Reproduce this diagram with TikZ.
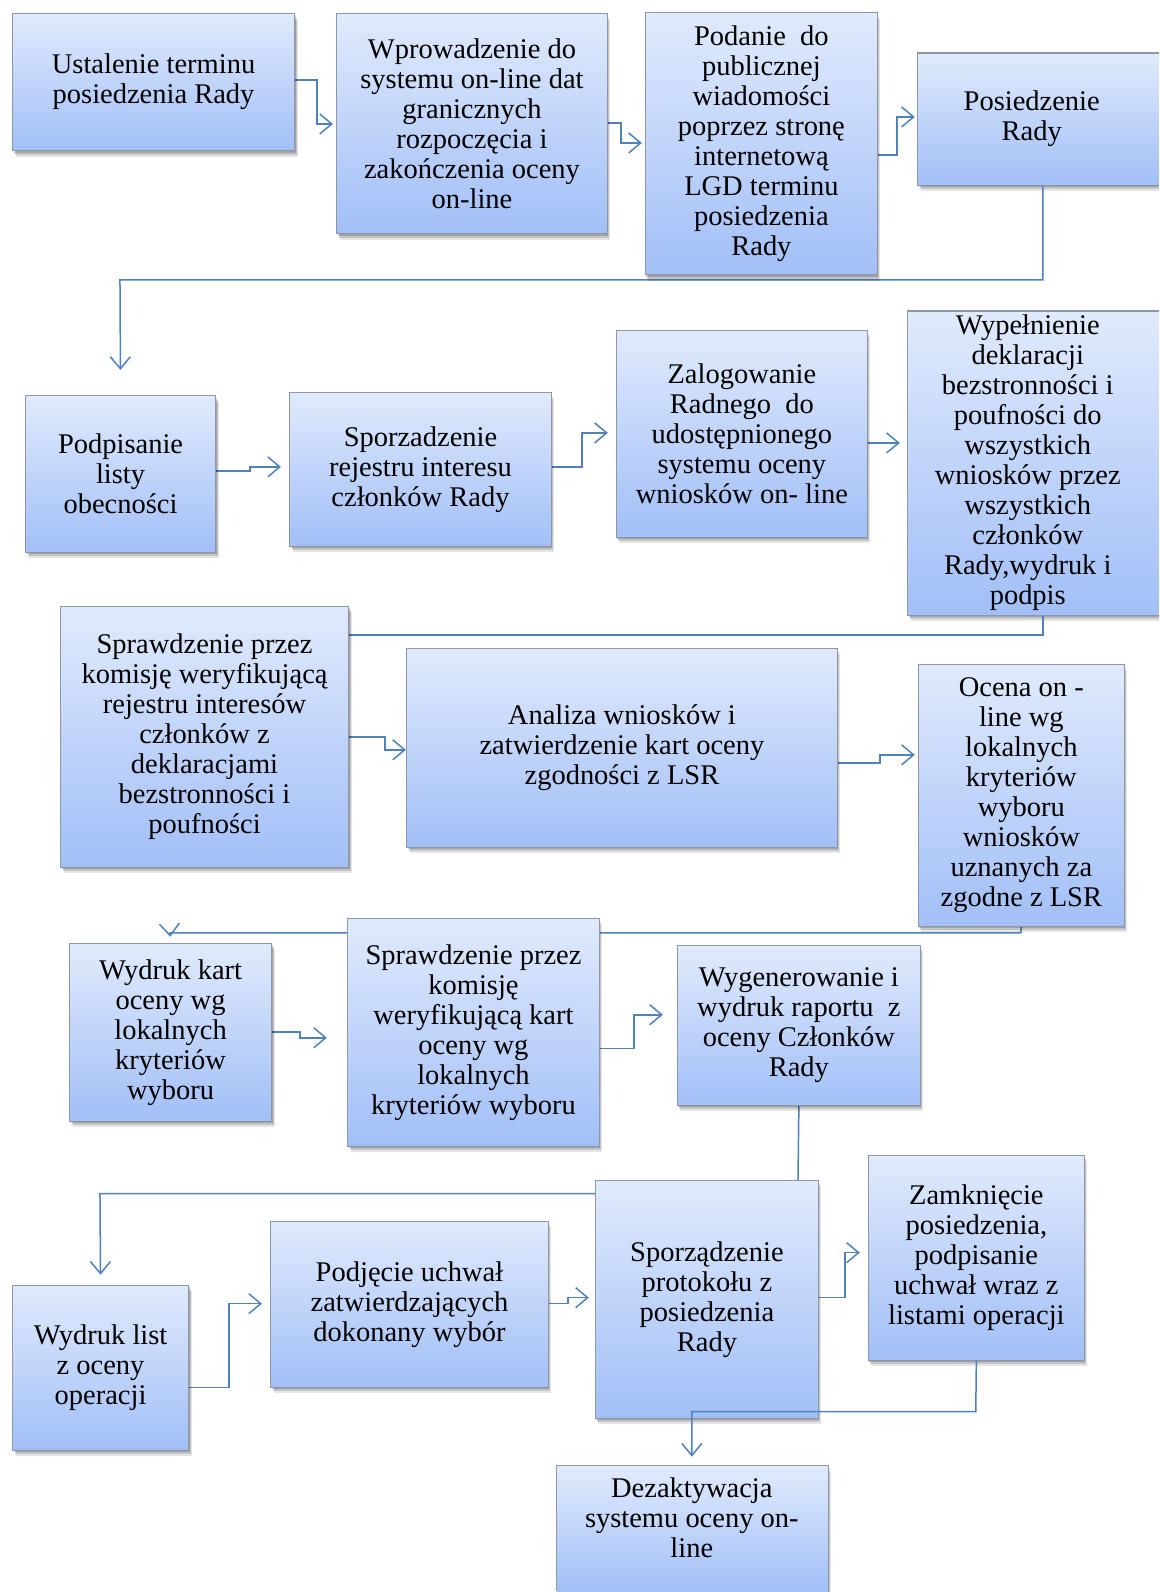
\documentclass[tikz,border=0pt]{standalone}
\usepackage{fontspec}
\setmainfont{Liberation Serif}
\usetikzlibrary{arrows.meta,shadows,backgrounds,calc}
\definecolor{boxtop}{HTML}{E0EAFC}
\definecolor{boxbot}{HTML}{A2BFF7}
\definecolor{boxline}{HTML}{8D97A5}
\definecolor{conncol}{HTML}{4F81BD}
\newcommand\flowbox[6]{\node[box, minimum width=#4pt, minimum height=#5pt] (#1) at (#2,#3) {#6};}
\newcommand\edgebox[5]{\node[edgefill, minimum width=#4pt, minimum height=#5pt] (#1) at (#2,#3) {};}
\begin{document}
\begin{tikzpicture}[x=1pt,y=-1pt,
  fnt/.style={font=\fontsize{28.5}{30}\selectfont},
  box/.style={draw=boxline, line width=1.2pt, top color=boxtop, bottom color=boxbot,
    general shadow={fill=black, opacity=0.10, shadow xshift=3pt, shadow yshift=-6pt},
    general shadow={fill=black, opacity=0.14, shadow xshift=2pt, shadow yshift=-4pt},
    general shadow={fill=black, opacity=0.18, shadow xshift=1pt, shadow yshift=-2pt},
    anchor=north west, inner sep=0pt, align=center, fnt},
  edgefill/.style={draw=none, top color=boxtop, bottom color=boxbot, anchor=north west, inner sep=0pt},
  edgeline/.style={draw=boxline, line width=1.2pt},
  shA/.style={fill=black, opacity=0.10},
  shB/.style={fill=black, opacity=0.14},
  shC/.style={fill=black, opacity=0.18},
  txt/.style={inner sep=0pt, align=center, fnt},
  conn/.style={draw=conncol, line width=1.5pt},
  arr/.style={conn, -{Straight Barb[length=12pt,width=20pt]}}]

% row 1
\flowbox{b1}{12}{13}{282}{137}{Ustalenie terminu\\posiedzenia Rady}
\flowbox{b2}{336}{13}{271}{220}{Wprowadzenie do\\systemu on-line dat\\granicznych\\rozpoczęcia i\\zakończenia oceny\\on-line}
\flowbox{b3}{645}{12}{232}{262}{Podanie\ \ do\\publicznej\\wiadomości\\poprzez stronę\\internetową\\LGD terminu\\posiedzenia\\Rady}
\edgebox{b4}{918}{53}{241}{132}
\draw[edgeline] ([xshift=-0.6pt]b4.north east) -- (b4.north west) -- (b4.south west) -- ([xshift=-0.6pt]b4.south east);
\node[txt] (b4t) at (1032,119) {Posiedzenie\\Rady};

% row 2
\flowbox{c1}{25}{395}{190}{157}{Podpisanie\\listy\\obecności}
\flowbox{c2}{289}{392}{262}{154}{Sporzadzenie\\rejestru interesu\\członków Rady}
\flowbox{c3}{616}{330}{251}{207}{Zalogowanie\\Radnego\ \ do\\udostępnionego\\systemu oceny\\wniosków on- line}
\edgebox{c4}{908}{311}{251}{304}
\draw[edgeline] ([xshift=-0.6pt]c4.north east) -- (c4.north west) -- (c4.south west) -- ([xshift=-0.6pt]c4.south east);
\node[txt] (c4t) at (1028,463) {Wypełnienie\\deklaracji\\bezstronności i\\poufności do\\wszystkich\\wniosków przez\\wszystkich\\członków\\Rady,wydruk i\\podpis};

% row 3
\flowbox{d1}{60}{606}{288}{261}{Sprawdzenie przez\\komisję weryfikującą\\rejestru interesów\\członków z\\deklaracjami\\bezstronności i\\poufności}
\flowbox{d2}{406}{648}{431}{199}{Analiza wniosków i\\zatwierdzenie kart oceny\\zgodności z LSR}
\flowbox{d3}{918}{664}{206}{262}{Ocena on -\\line wg\\lokalnych\\kryteriów\\wyboru\\wniosków\\uznanych za\\zgodne z LSR}

% row 4
\flowbox{e1}{69}{943}{202}{178}{Wydruk kart\\oceny wg\\lokalnych\\kryteriów\\wyboru}
\flowbox{e2}{347}{918}{252}{228}{Sprawdzenie przez\\komisję\\weryfikującą kart\\oceny wg\\lokalnych\\kryteriów wyboru}
\flowbox{e3}{677}{945}{243}{160}{Wygenerowanie i\\wydruk raportu\ \ z\\oceny Członków\\Rady}

% row 5
\flowbox{f1}{12}{1285}{176}{165}{Wydruk list\\z oceny\\operacji}
\flowbox{f2}{270}{1221}{278}{166}{Podjęcie uchwał\\zatwierdzających\\dokonany wybór}
\flowbox{f3}{595}{1180}{223}{238}{Sporządzenie\\protokołu z\\posiedzenia\\Rady}
\flowbox{f4}{868}{1155}{216}{205}{Zamknięcie\\posiedzenia,\\podpisanie\\uchwał wraz z\\listami operacji}
\edgebox{g}{557}{1466}{271}{126}
\draw[edgeline] ([yshift=0.6pt]g.south west) -- (g.north west) -- (g.north east) -- ([yshift=0.6pt]g.south east);
\node[txt] (gt) at (692,1518) {Dezaktywacja\\systemu oceny on-\\line};

\begin{scope}[on background layer]
\fill[white] (0,0) rectangle (1159,1592);
% shadows of the boxes cut by the page edge
\fill[shA] ([shift={(3,6)}]b4.north west) rectangle ([yshift=-6pt]b4.south east);
\fill[shB] ([shift={(2,4)}]b4.north west) rectangle ([yshift=-4pt]b4.south east);
\fill[shC] ([shift={(1,2)}]b4.north west) rectangle ([yshift=-2pt]b4.south east);
\fill[shA] ([shift={(3,6)}]c4.north west) rectangle ([yshift=-6pt]c4.south east);
\fill[shB] ([shift={(2,4)}]c4.north west) rectangle ([yshift=-4pt]c4.south east);
\fill[shC] ([shift={(1,2)}]c4.north west) rectangle ([yshift=-2pt]c4.south east);
\fill[shA] ([shift={(3,6)}]g.north west) rectangle ([xshift=3pt]g.south east);
\fill[shB] ([shift={(2,4)}]g.north west) rectangle ([xshift=2pt]g.south east);
\fill[shC] ([shift={(1,2)}]g.north west) rectangle ([xshift=1pt]g.south east);
% connectors
\draw[arr, shorten >=3pt] (b1.east |- 0,80) -- (317,80) -- (317,124) -- (b2.west |- 0,124);
\draw[arr, shorten >=3pt] (b2.east |- 0,123) -- (621,123) -- (621,143) -- (b3.west |- 0,143);
\draw[arr, shorten >=3pt] (b3.east |- 0,155) -- (897,155) -- (897,117) -- (b4.west |- 0,117);
\draw[arr, shorten >=25pt] (b4.south -| 1043,0) -- (1043,280) -- (120,280) -- (c1.north);
\draw[arr, shorten >=8pt] (c1.east |- 0,471) -- (250,471) -- (250,467) -- (c2.west |- 0,467);
\draw[arr, shorten >=8pt] (c2.east |- 0,467) -- (582,467) -- (582,433) -- (c3.west |- 0,433);
\draw[arr, shorten >=8pt] (c3.east |- 0,443) -- (c4.west |- 0,443);
\draw[conn] (c4.south -| 1043,0) -- (1043,635) -- (d1.east |- 0,635);
\draw[arr, shorten >=0pt] (d1.east |- 0,737) -- (385,737) -- (385,750) -- (d2.west |- 0,750);
\draw[arr, shorten >=3pt] (d2.east |- 0,763) -- (880,763) -- (880,755) -- (d3.west |- 0,755);
\draw[arr, shorten >=6pt] (d3.south) -- (1021,933) -- (170,933) -- (e1.north);
\draw[arr, shorten >=20pt] (e1.east |- 0,1032) -- (300,1032) -- (300,1038) -- (e2.west |- 0,1038);
\draw[arr, shorten >=14pt] (e2.east |- 0,1049) -- (634,1049) -- (634,1015) -- (e3.west |- 0,1015);
\draw[arr, shorten >=10pt] (e3.south) -- (798,1194) -- (100,1194) -- (f1.north);
\draw[arr, shorten >=8pt] (f1.east |- 0,1388) -- (229,1388) -- (229,1304) -- (f2.west |- 0,1304);
\draw[arr, shorten >=6pt] (f2.east |- 0,1304) -- (568,1304) -- (568,1298) -- (f3.west |- 0,1298);
\draw[arr, shorten >=8pt] (f3.east |- 0,1298) -- (845,1298) -- (845,1253) -- (f4.west |- 0,1253);
\end{scope}
\draw[arr, shorten >=9pt] (f4.south) -- (976,1412) -- (692,1412) -- (g.north -| 692,0);
\end{tikzpicture}
\end{document}
